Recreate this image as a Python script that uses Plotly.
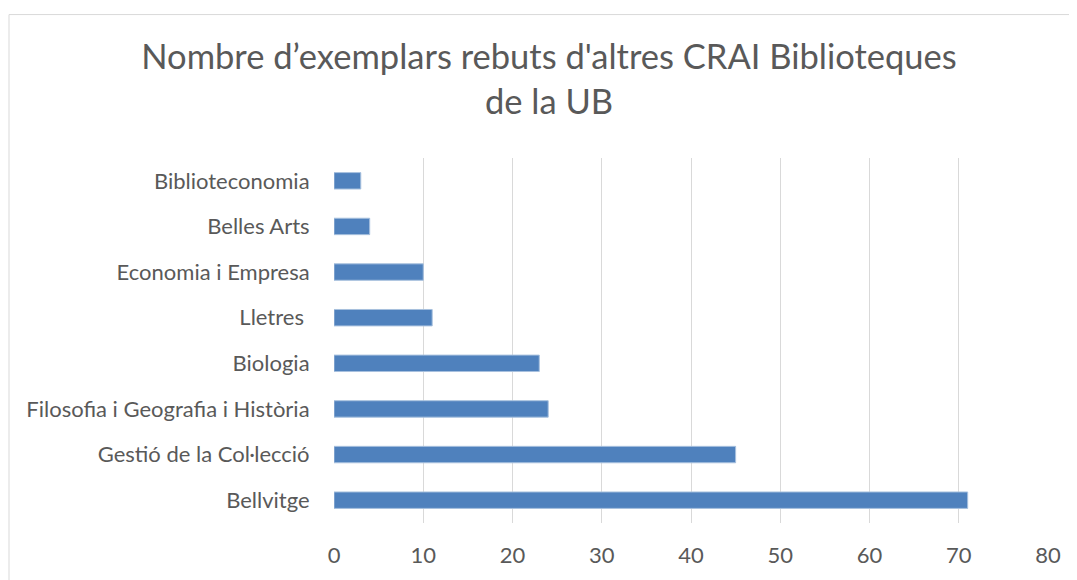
import plotly.graph_objects as go

categories = ["Bellvitge", "Gestió de la Col·lecció", "Filosofia i Geografia i Història",
              "Biologia", "Lletres ", "Economia i Empresa", "Belles Arts", "Biblioteconomia"]
values = [71, 45, 24, 23, 11, 10, 4, 3]
tick_vals = [0, 10, 20, 30, 40, 50, 60, 70, 80]

# page has an 8px body margin; the figure is sized/offset to compensate
OFF = 8
W, H = 1077 - OFF, 580 - OFF
L, T = 334 - OFF, 158 - OFF
R = W - (1048 - OFF)
B = H - (527 - OFF)
pw, ph = W - L - R, H - T - B

fig = go.Figure(go.Bar(
    x=values, y=categories, orientation="h",
    marker=dict(color="#4F81BD", line=dict(color="#A7C0DE", width=1)),
    width=0.36,
))

font = "Lato, Open Sans, sans-serif"
fig.update_layout(
    width=W, height=H,
    margin=dict(l=L, r=R, t=T, b=B),
    plot_bgcolor="white", paper_bgcolor="white",
    showlegend=False,
    title=dict(text="Nombre d’exemplars rebuts d'altres CRAI Biblioteques<br>de la UB",
               x=(549 - OFF) / W, xanchor="center", y=1 - (69 - OFF) / H, yanchor="middle",
               font=dict(family=font, size=34.5, color="#595959")),
    font=dict(family=font, size=22, color="#595959"),
    xaxis=dict(range=[0, 80], tickvals=tick_vals, showgrid=True, gridcolor="#D9D9D9",
               gridwidth=1, zeroline=False, showline=False, ticks="outside", ticklen=13,
               tickcolor="rgba(0,0,0,0)",
               tickfont=dict(size=22, color="#595959"), fixedrange=True),
    yaxis=dict(categoryorder="array", categoryarray=categories, showgrid=False,
               zeroline=False, showline=False, ticks="outside", ticklen=19,
               tickcolor="rgba(0,0,0,0)", tickfont=dict(size=22, color="#595959")),
)

fig.add_shape(type="rect", xref="paper", yref="paper",
              x0=(9 - 334) / pw, x1=(1100 - 334) / pw,
              y0=(527 - 600) / ph, y1=(527 - 13) / ph,
              line=dict(color="#D9D9D9", width=1), fillcolor="rgba(0,0,0,0)", layer="below")

fig.write_html("out.html")
